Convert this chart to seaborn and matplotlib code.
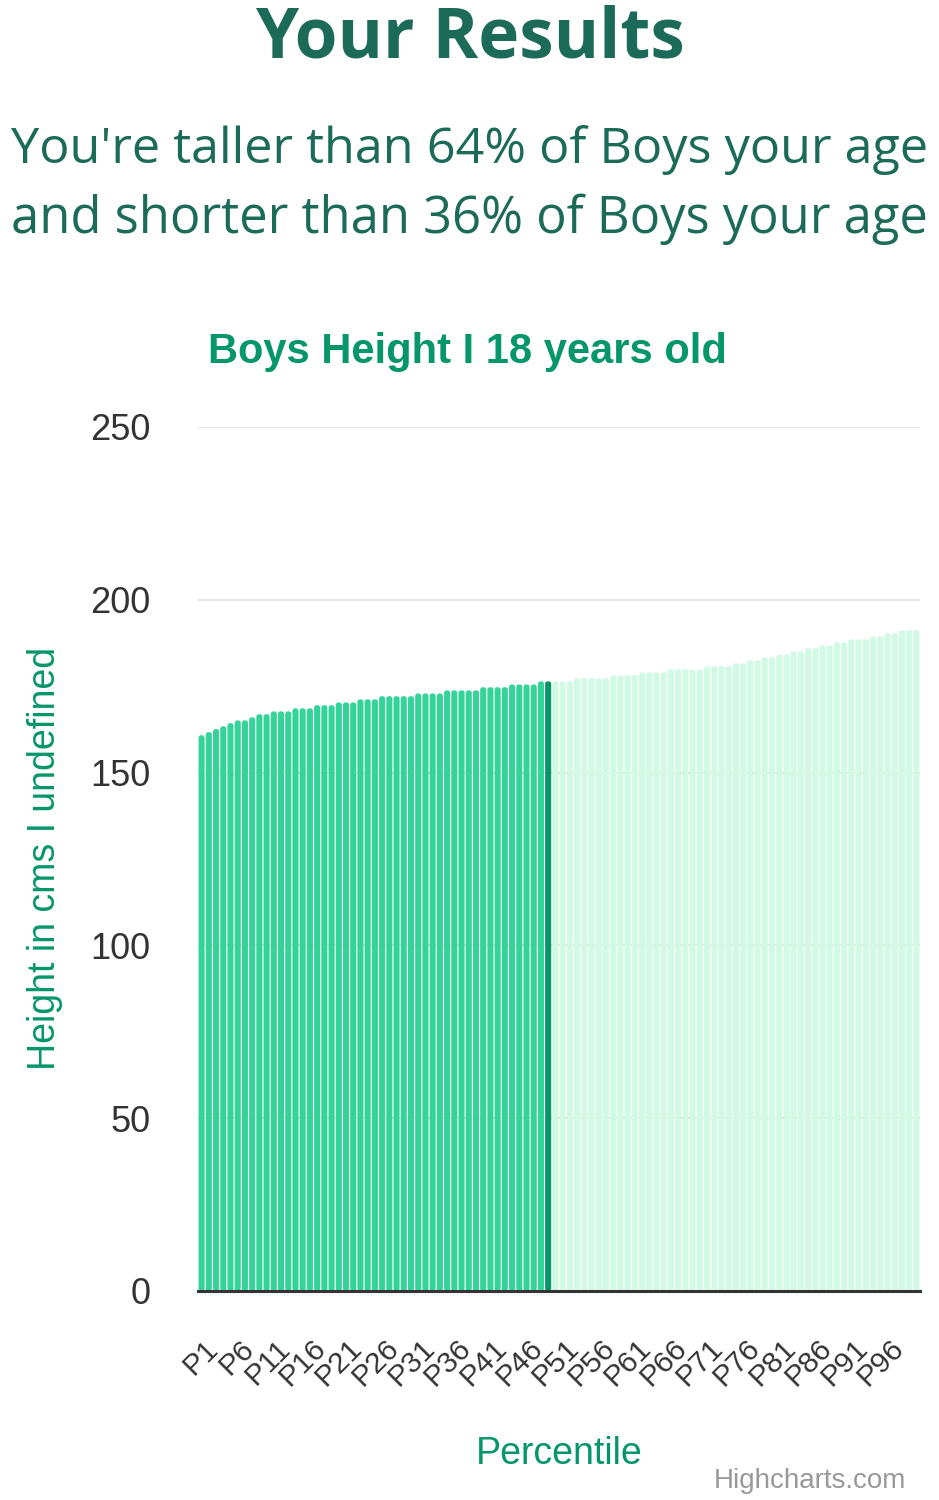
import pandas as pd
import matplotlib.pyplot as plt
import matplotlib.transforms as mtransforms
from matplotlib.patches import FancyBboxPatch
import seaborn as sns

# ==========================================
# DATA
# ==========================================

percentiles = [f"P{i}" for i in range(1, 101)]

heights = [
    160.8, 161.7, 162.6, 163.4, 164.3, 165.1, 165.1, 166.0, 166.9, 166.9,
    167.7, 167.7, 167.7, 168.6, 168.6, 168.6, 169.5, 169.5, 169.5, 170.3,
    170.3, 170.3, 171.2, 171.2, 171.2, 172.1, 172.1, 172.1, 172.1, 172.1,
    172.9, 172.9, 172.9, 172.9, 173.8, 173.8, 173.8, 173.8, 173.8, 174.7,
    174.7, 174.7, 174.7, 175.5, 175.5, 175.5, 175.5, 176.4, 176.4, 176.4,
    176.4, 176.4, 177.3, 177.3, 177.3, 177.3, 177.3, 178.2, 178.2, 178.2,
    178.2, 179.0, 179.0, 179.0, 179.0, 179.9, 179.9, 179.9, 179.9, 179.9,
    180.8, 180.8, 180.8, 180.8, 181.6, 181.6, 182.5, 182.5, 183.4, 183.4,
    184.2, 184.2, 185.1, 185.1, 186.0, 186.0, 186.8, 186.8, 187.7, 187.7,
    188.6, 188.6, 188.6, 189.4, 189.4, 190.3, 190.3, 191.2, 191.2, 191.2,
]

user_percentile = "P49"
tick_labels = percentiles[::5]
y_ticks = [0, 50, 100, 150, 200, 250]

title = "Your Results"
subtitle_1 = "You're taller than 64% of Boys your age"
subtitle_2 = "and shorter than 36% of Boys your age"
chart_title = "Boys Height I 18 years old"
y_label = "Height in cms I undefined"
x_label = "Percentile"
credit = "Highcharts.com"

# ==========================================
# COLOURS
# ==========================================

below_color = "#34d399"
user_color = "#059669"
above_color = "#d1fae5"
heading_color = "#1b6b58"
label_color = "#059669"
text_color = "#333333"

user_idx = percentiles.index(user_percentile)
bar_colors = []
for i in range(len(percentiles)):
    if i < user_idx:
        bar_colors.append(below_color)
    elif i == user_idx:
        bar_colors.append(user_color)
    else:
        bar_colors.append(above_color)

df = pd.DataFrame({"Percentile": percentiles, "Height": heights})

# ==========================================
# FIGURE
# ==========================================

sns.set_theme(style="white")
plt.rcParams["font.family"] = ["Liberation Sans", "DejaVu Sans"]

W, H = 939, 1500
fig = plt.figure(figsize=(W / 100, H / 100), dpi=100)
ax = fig.add_axes([198 / W, 209 / H, 722 / W, 864 / H])

sns.barplot(
    data=df,
    x="Percentile",
    y="Height",
    hue="Percentile",
    palette=bar_colors,
    legend=False,
    width=0.84,
    saturation=1,
    linewidth=0,
    edgecolor="none",
    ax=ax
)

ax.set_xlim(-0.5, len(percentiles) - 0.5)
ax.set_ylim(0, 250)

# rounded bar tops like the Highcharts columns
px_per_cat = 722 / len(percentiles)
px_per_cm = 864 / 250
for bar in list(ax.patches):
    x, y = bar.get_x(), bar.get_y()
    w, h = bar.get_width(), bar.get_height()
    rounded = FancyBboxPatch(
        (x, y), w, h,
        boxstyle=f"round,pad=0,rounding_size={2.5 / px_per_cat:.3f}",
        mutation_aspect=px_per_cat / px_per_cm,
        facecolor=bar.get_facecolor(),
        edgecolor="none",
        linewidth=0,
        zorder=bar.get_zorder()
    )
    bar.remove()
    ax.add_patch(rounded)

ax.set_yticks(y_ticks)
ax.grid(axis="y", color="#e6e6e6", linewidth=1.5)
ax.grid(axis="x", visible=False)
ax.set_axisbelow(True)

ax.set_xticks(range(0, len(percentiles), 5))
ax.set_xticklabels(
    tick_labels,
    rotation=45,
    ha="right",
    va="top",
    rotation_mode="anchor",
    fontsize=21.5,
    color=text_color
)
ax.tick_params(axis="x", length=0, pad=31)
ax.tick_params(axis="y", length=0, pad=34, labelsize=26, labelcolor=text_color)

offset = mtransforms.ScaledTranslation(0.02, 0, fig.dpi_scale_trans)
for lab in ax.get_xticklabels():
    lab.set_transform(lab.get_transform() + offset)

for side in ["top", "right", "left"]:
    ax.spines[side].set_visible(False)
ax.spines["bottom"].set_color(text_color)
ax.spines["bottom"].set_linewidth(2.2)
ax.spines["bottom"].set_zorder(5)

ax.set_xlabel("")
ax.set_ylabel("")

# ==========================================
# TEXTS
# ==========================================

t_title = fig.text(
    0.5, 1 - 57 / H, title,
    ha="center", va="baseline",
    fontsize=50, fontweight="bold",
    color=heading_color, family=["Open Sans", "DejaVu Sans"]
)
t_sub1 = fig.text(
    0.5, 1 - 163 / H, subtitle_1,
    ha="center", va="baseline",
    fontsize=33, color=heading_color, family=["Open Sans", "DejaVu Sans"]
)
t_sub2 = fig.text(
    0.5, 1 - 233 / H, subtitle_2,
    ha="center", va="baseline",
    fontsize=33, color=heading_color, family=["Open Sans", "DejaVu Sans"]
)

fig.text(
    467 / W, 1 - 363 / H, chart_title,
    ha="center", va="baseline",
    fontsize=30, fontweight="bold", color=label_color
)
fig.text(
    45 / W, 1 - 858 / H, y_label,
    ha="center", va="center", rotation=90,
    fontsize=27, color=label_color
)
fig.text(
    559 / W, 1 - 1464 / H, x_label,
    ha="center", va="baseline",
    fontsize=27, color=label_color
)
fig.text(
    906 / W, 1 - 1488 / H, credit,
    ha="right", va="baseline",
    fontsize=20, color="#999999"
)

# fit heading widths to the reference
fig.canvas.draw()
renderer = fig.canvas.get_renderer()


def fit_width(t, target_px):
    w = t.get_window_extent(renderer).width
    t.set_fontsize(t.get_fontsize() * target_px / w)


fit_width(t_title, 430)
fit_width(t_sub1, 919)
fit_width(t_sub2, 919)

plt.savefig("out.png", dpi=100)
